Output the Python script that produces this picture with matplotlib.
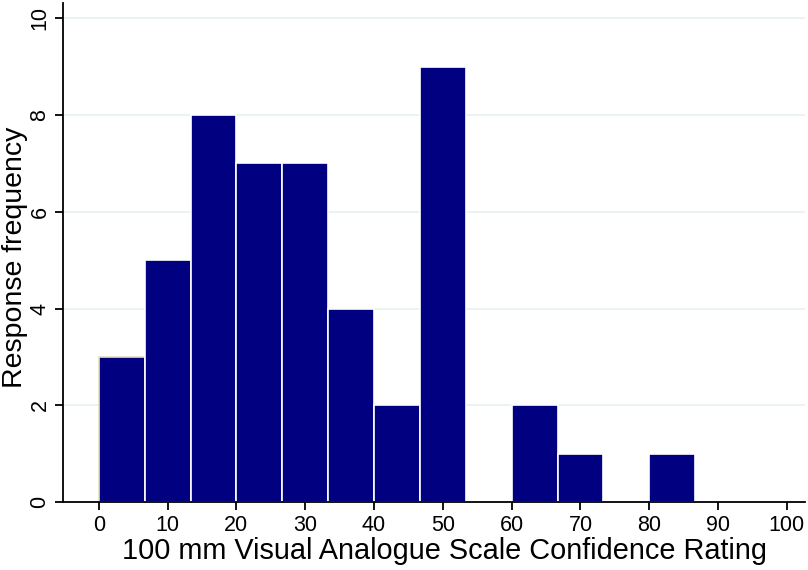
import numpy as np
import matplotlib
matplotlib.use("Agg")
import matplotlib.pyplot as plt

plt.rcParams['font.family'] = ['Liberation Sans', 'DejaVu Sans']

# histogram of VAS confidence ratings, 15 bins over 0-100
bin_edges = np.linspace(0, 100, 16)
counts = [3, 5, 8, 7, 7, 4, 2, 9, 0, 2, 1, 0, 1, 0, 0]
x_ticks = [0, 10, 20, 30, 40, 50, 60, 70, 80, 90, 100]
y_ticks = [0, 2, 4, 6, 8, 10]

fig = plt.figure(figsize=(8.08, 5.70), dpi=100)
ax = fig.add_axes([0.078, 0.119, 0.918, 0.876])

widths = np.diff(bin_edges)
bars = ax.bar(bin_edges[:-1], counts, width=widths, align='edge',
              color='#000080', edgecolor='white', linewidth=1.2, zorder=2)
bars[0].set_edgecolor('#e6dfc0')

ax.set_xlim(-5.2, 102.6)
ax.set_ylim(0, 10.32)
ax.set_xticks(x_ticks)
ax.set_yticks(y_ticks)
ax.yaxis.grid(True, color='#e8f0f0', linewidth=1.2, zorder=0)
ax.set_axisbelow(True)

for s in ['top', 'right']:
    ax.spines[s].set_visible(False)
ax.spines['left'].set_linewidth(1.3)
ax.spines['bottom'].set_linewidth(1.3)

ax.tick_params(axis='both', length=6, width=1.3, labelsize=15.5, pad=3)
for lbl in ax.get_yticklabels():
    lbl.set_rotation(90)
    lbl.set_va('center')

ax.set_xlabel('100 mm Visual Analogue Scale Confidence Rating', fontsize=20.8, va='center')
ax.xaxis.set_label_coords(0.514, -0.097)
ax.set_ylabel('Response frequency', fontsize=20.5, va='center')
ax.yaxis.set_label_coords(-0.065, 0.491)

fig.savefig('out.png', dpi=100)
